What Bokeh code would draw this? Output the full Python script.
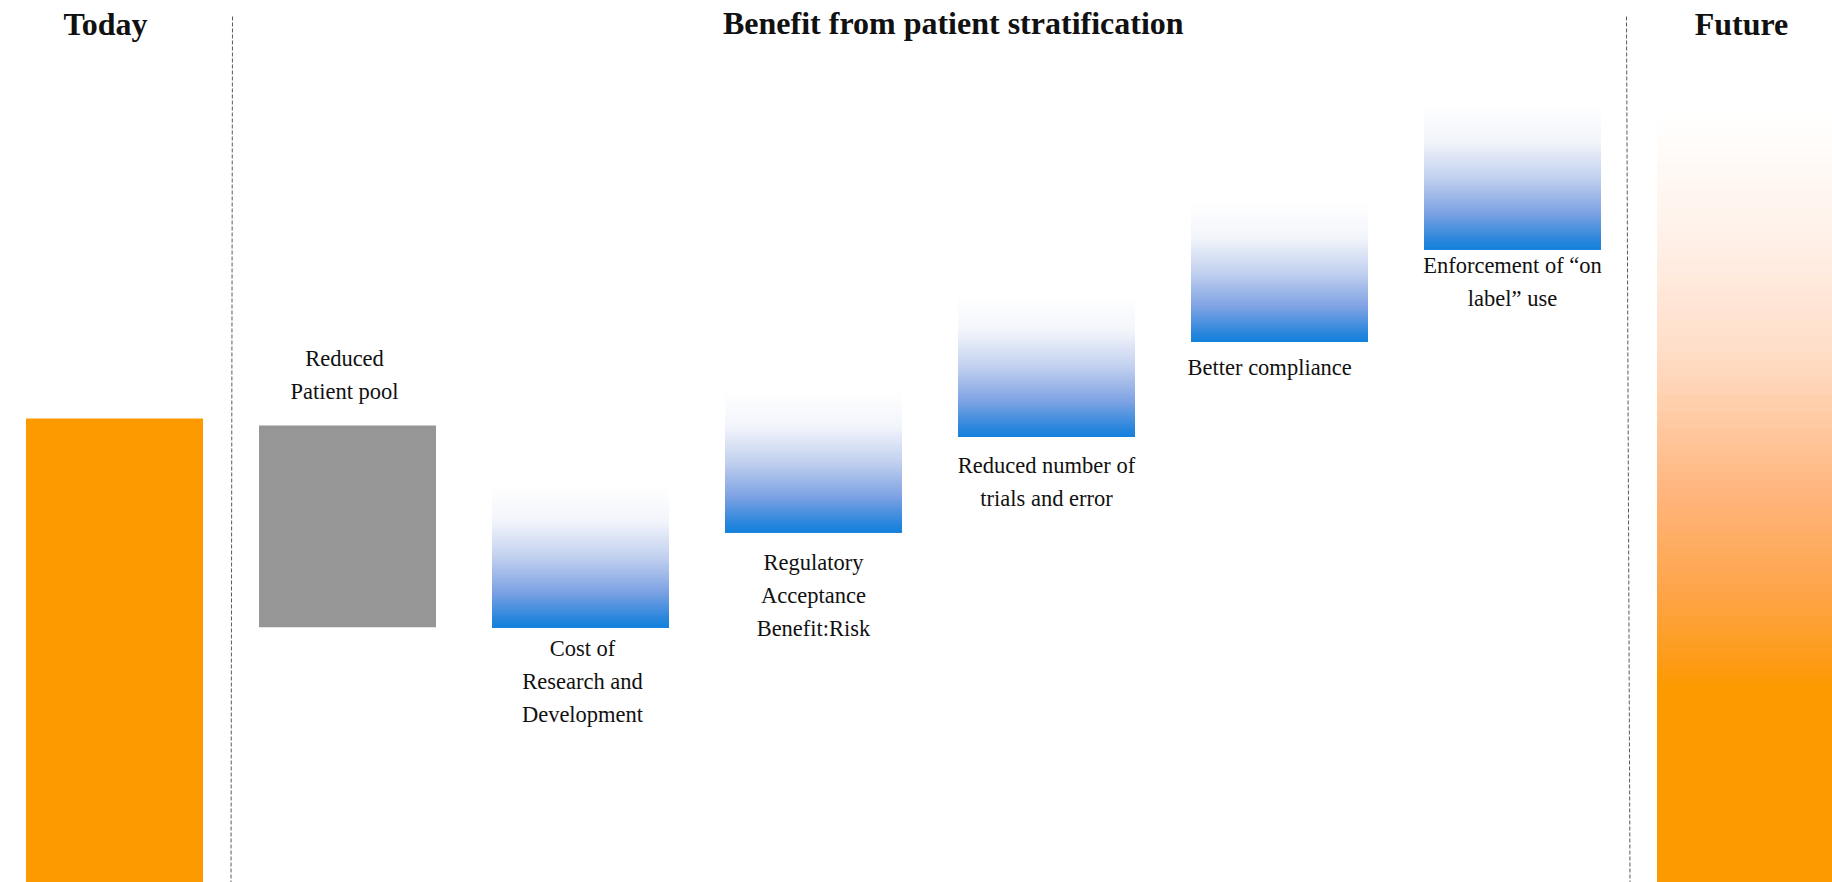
import numpy as np
from bokeh.plotting import figure
from bokeh.models import Range1d, ColumnDataSource
from bokeh.core.properties import value
from bokeh.embed import file_html
from bokeh.resources import INLINE

# ---------------- data ----------------
stages = ["Today",
          "Reduced\nPatient pool",
          "Cost of\nResearch and\nDevelopment",
          "Regulatory\nAcceptance\nBenefit:Risk",
          "Reduced number of\ntrials and error",
          "Better  compliance",
          "Enforcement of \u201con\nlabel\u201d use",
          "Future"]
bar_bottom = [0, 55, 55, 75.5, 96, 116.5, 136.5, 0]
bar_top = [100, 98.5, 85.5, 106, 126.5, 146.5, 167.5, 166]
bar_kind = ["total", "decrease", "increase", "increase", "increase",
            "increase", "increase", "future"]
section_titles = ["Today", "Benefit from patient stratification", "Future"]

# ---------------- layout / style ----------------
W, H = 1832, 882
PX_Y = 4.64          # pixels per value unit
PX_X = 233.0         # pixels per category step
X0_SCREEN = 114.0    # screen x of first category centre
BAR_W = 177.0 / PX_X
ORANGE = "#FD9A00"
GREY = "#969696"
FONT = "Liberation Serif"
LABEL_SIZE = 22.5
LINE_STEP = 33
label_gap = [0, 34, 21, 30, 28, 26, 16, 0]     # px from bar edge to nearest text line
label_dx = [0, -3, 2, 0, 0, -7, 0, 0]

x_start = -X0_SCREEN / PX_X
x_end = x_start + W / PX_X
y_start = 0.0
y_end = H / PX_Y

p = figure(width=W, height=H, x_range=Range1d(x_start, x_end),
           y_range=Range1d(y_start, y_end), output_backend="svg",
           toolbar_location=None, min_border=0, x_axis_type=None,
           y_axis_type=None)
p.grid.visible = False
p.outline_line_color = None
p.background_fill_color = "white"
p.border_fill_color = "white"

blue_stops_t = [0.0, 0.25, 0.5, 0.75, 0.93, 1.0]
blue_stops_c = [(255, 255, 255), (242, 245, 251), (195, 209, 239),
                (125, 162, 227), (45, 135, 220), (18, 128, 220)]
orange_stops_t = [0.0, 0.157, 0.31, 0.50, 0.62, 0.70, 0.75, 1.0]
orange_stops_c = [(255, 255, 255), (255, 241, 233), (255, 222, 200),
                  (255, 180, 122), (254, 165, 75), (253, 157, 30),
                  (253, 154, 0), (253, 154, 0)]


def interp_color(ts, cs, f):
    r = np.interp(f, ts, [c[0] for c in cs])
    g = np.interp(f, ts, [c[1] for c in cs])
    b = np.interp(f, ts, [c[2] for c in cs])
    return "#%02x%02x%02x" % (int(round(r)), int(round(g)), int(round(b)))


solid = dict(left=[], right=[], bottom=[], top=[], color=[])
grad = dict(left=[], right=[], bottom=[], top=[], color=[])
N = 90
for i, (b, t, kind) in enumerate(zip(bar_bottom, bar_top, bar_kind)):
    l, r = i - BAR_W / 2, i + BAR_W / 2
    if kind in ("total", "decrease"):
        solid["left"].append(l); solid["right"].append(r)
        solid["bottom"].append(b); solid["top"].append(t)
        solid["color"].append(ORANGE if kind == "total" else GREY)
    else:
        ts, cs = (blue_stops_t, blue_stops_c) if kind == "increase" else (orange_stops_t, orange_stops_c)
        for k in range(N - 1, -1, -1):
            grad["left"].append(l); grad["right"].append(r)
            grad["bottom"].append(b)
            grad["top"].append(b + (t - b) * (k + 1) / N)
            grad["color"].append(interp_color(ts, cs, 1 - (k + 0.5) / N))

p.quad(left="left", right="right", bottom="bottom", top="top",
       fill_color="color", line_color=None, source=ColumnDataSource(solid))
p.quad(left="left", right="right", bottom="bottom", top="top",
       fill_color="color", line_color=None, source=ColumnDataSource(grad))

# dashed separators between sections
sep_top = y_end - 16 / PX_Y
p.segment(x0=[0.5 + 1.5 / PX_X, 6.5 - 2.5 / PX_X], y0=[sep_top, sep_top],
          x1=[0.5, 6.5 + 1.0 / PX_X], y1=[y_start, y_start],
          line_color="#5a5a5a", line_width=1, line_dash="4 2")

# stage labels (one text row per line)
lab = dict(x=[], y=[], text=[], dx=[], dy=[])
for i, (name, b, t, kind) in enumerate(zip(stages, bar_bottom, bar_top, bar_kind)):
    if kind in ("total", "future"):
        continue
    lines = name.split("\n")
    n = len(lines)
    for k, ln in enumerate(lines):
        lab["x"].append(i)
        lab["text"].append(ln)
        lab["dx"].append(label_dx[i])
        if kind == "decrease":
            lab["y"].append(t)
            lab["dy"].append(-(label_gap[i] + (n - 1 - k) * LINE_STEP))
        else:
            lab["y"].append(b)
            lab["dy"].append(label_gap[i] + k * LINE_STEP)
p.text(x="x", y="y", text="text", x_offset="dx", y_offset="dy",
       source=ColumnDataSource(lab), text_font=value(FONT),
       text_font_size=f"{LABEL_SIZE}px", text_align="center",
       text_baseline="alphabetic", text_color="#111111")

# section titles
hdr = dict(x=[0, 3.6, 7], y=[y_end] * 3, text=section_titles,
           dx=[-9, 0, -4], dy=[23, 22, 23])
p.text(x="x", y="y", text="text", x_offset="dx", y_offset="dy",
       source=ColumnDataSource(hdr), text_font=value(FONT),
       text_font_size="32px", text_font_style="bold", text_align="center",
       text_baseline="alphabetic", text_color="#111111")

open("out.html", "w").write(file_html(p, INLINE))
